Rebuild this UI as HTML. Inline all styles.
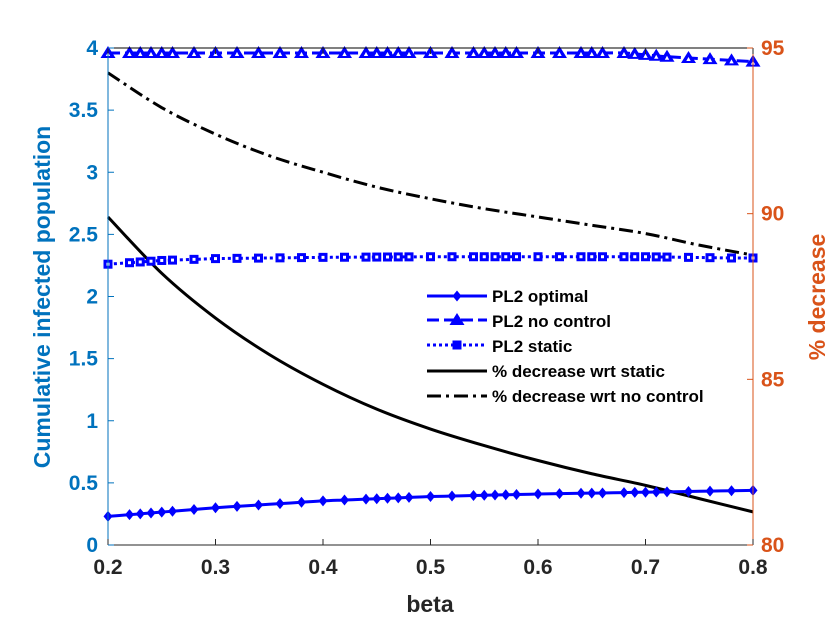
<!DOCTYPE html>
<html><head><meta charset="utf-8"><style>
body{margin:0;background:#fff}
svg text{font-family:"Liberation Sans",Arial,sans-serif;font-weight:bold}
</style></head><body>
<svg id="c" width="830" height="623"></svg>
<script>
const betas=[0.2,0.22,0.23,0.24,0.25,0.26,0.28,0.30,0.32,0.34,0.36,0.38,0.40,0.42,0.44,0.45,0.46,0.47,0.48,0.50,0.52,0.54,0.55,0.56,0.57,0.58,0.60,0.62,0.64,0.65,0.66,0.68,0.69,0.70,0.71,0.72,0.74,0.76,0.78,0.80];
const optKnots=[[0.2,0.23],[0.3,0.30],[0.4,0.355],[0.5,0.39],[0.6,0.41],[0.7,0.425],[0.8,0.44]];
const staticKnots=[[0.2,2.26],[0.25,2.29],[0.3,2.305],[0.4,2.315],[0.5,2.32],[0.7,2.32],[0.78,2.31],[0.8,2.31]];
const noCtrlKnots=[[0.2,3.96],[0.5,3.96],[0.68,3.96],[0.72,3.93],[0.78,3.9],[0.8,3.89]];
const pctStaticX=[0.2,0.25,0.3,0.35,0.4,0.45,0.5,0.55,0.6,0.65,0.7,0.75,0.8];
const pctStatic=[89.9,88.2,86.85,85.75,84.85,84.1,83.5,83.0,82.55,82.15,81.8,81.4,81.0];
const pctNoCtrlX=[0.2,0.25,0.3,0.35,0.4,0.45,0.5,0.55,0.6,0.65,0.7,0.75,0.8];
const pctNoCtrl=[94.25,93.2,92.4,91.75,91.25,90.8,90.45,90.15,89.9,89.65,89.4,89.05,88.75];
const xTicks=[0.2,0.3,0.4,0.5,0.6,0.7,0.8];
const yTicks=[0,0.5,1,1.5,2,2.5,3,3.5,4];
const y2Ticks=[80,85,90,95];

const NS="http://www.w3.org/2000/svg",svg=document.getElementById('c');
const L=108,R=753,T=48,B=545;
const X=v=>L+(v-0.2)/0.6*(R-L), Y=v=>B-v/4*(B-T), Y2=v=>B-(v-80)/15*(B-T);
const BLUE="#0000ff",AXB="#0072BD",AXO="#D95319";
function el(t,a,p){const e=document.createElementNS(NS,t);for(const k in a)e.setAttribute(k,a[k]);(p||svg).appendChild(e);return e;}
function interp(k,x){for(let i=0;i<k.length-1;i++){if(x<=k[i+1][0]){const t=(x-k[i][0])/(k[i+1][0]-k[i][0]);return k[i][1]+t*(k[i+1][1]-k[i][1]);}}return k[k.length-1][1];}
function smooth(pts){let d=`M${pts[0][0]} ${pts[0][1]}`;for(let i=0;i<pts.length-1;i++){const p0=pts[Math.max(0,i-1)],p1=pts[i],p2=pts[i+1],p3=pts[Math.min(pts.length-1,i+2)];
 const c1=[p1[0]+(p2[0]-p0[0])/6,p1[1]+(p2[1]-p0[1])/6],c2=[p2[0]-(p3[0]-p1[0])/6,p2[1]-(p3[1]-p1[1])/6];d+=`C${c1} ${c2} ${p2}`;}return d;}
function series(knots,name,dash,marker){
  const g=el('g',{});
  
  
  const pts=betas.map(b=>[X(b),Y(interp(knots,b))]);
  el('path',{d:smooth(pts),fill:'none',stroke:BLUE,'stroke-width':3,'stroke-dasharray':dash},g);
  pts.forEach(p=>marker(p[0],p[1],g));
}
const diamond=(x,y,g)=>el('path',{d:`M${x} ${y-5.5}L${x+4.5} ${y}L${x} ${y+5.5}L${x-4.5} ${y}Z`,fill:BLUE},g);
const tri=(x,y,g)=>{el('path',{d:`M${x} ${y-7}L${x+7.5} ${y+5}L${x-7.5} ${y+5}Z`,fill:BLUE},g);el('path',{d:`M${x} ${y-1}L${x+2.2} ${y+3}L${x-2.2} ${y+3}Z`,fill:'#fff'},g);};
const sq=(x,y,g)=>{el('rect',{x:x-4.5,y:y-4.5,width:9,height:9,fill:BLUE},g);el('rect',{x:x-1.5,y:y-1.5,width:3,height:3,fill:'#fff'},g);};
function pline(xs,ys,name,dash){
  const p=el('path',{d:smooth(xs.map((x,i)=>[X(x),Y2(ys[i])])),fill:'none',stroke:'#000','stroke-width':3,'stroke-dasharray':dash});
  
  
}
el('rect',{x:L,y:T,width:R-L,height:B-T,fill:'#fff'});
pline(pctStaticX,pctStatic,'pct-decrease-static-line','none');
pline(pctNoCtrlX,pctNoCtrl,'pct-decrease-nocontrol-line','14 5 3 5');
series(optKnots,'pl2-optimal-line','none',diamond);
series(staticKnots,'pl2-static-line','3 3',sq);
series(noCtrlKnots,'pl2-nocontrol-line','12 5',tri);
el('line',{x1:L,y1:T,x2:R,y2:T,stroke:'#000','stroke-width':1});
el('line',{x1:L,y1:B,x2:R,y2:B,stroke:'#262626','stroke-width':1});
el('line',{x1:L,y1:T,x2:L,y2:B,stroke:AXB,'stroke-width':1});
el('line',{x1:R,y1:T,x2:R,y2:B,stroke:AXO,'stroke-width':1});
xTicks.forEach(v=>{el('line',{x1:X(v),y1:B,x2:X(v),y2:B-6,stroke:'#262626'});el('line',{x1:X(v),y1:T,x2:X(v),y2:T+6,stroke:'#262626'});
 const t=el('text',{x:X(v),y:B+29,'text-anchor':'middle','font-size':21,fill:'#262626'});t.textContent=v.toFixed(1);
 });
yTicks.forEach(v=>{el('line',{x1:L,y1:Y(v),x2:L+6,y2:Y(v),stroke:AXB});
 const t=el('text',{x:L-10,y:Y(v)+7,'text-anchor':'end','font-size':21,fill:AXB});t.textContent=String(v);
 });
y2Ticks.forEach(v=>{el('line',{x1:R,y1:Y2(v),x2:R-6,y2:Y2(v),stroke:AXO});
 const t=el('text',{x:R+8,y:Y2(v)+7,'font-size':21,fill:AXO});t.textContent=String(v);
 });
</script>
<svg width="830" height="623" style="position:absolute;left:0;top:0">
<text x="430" y="612" text-anchor="middle" font-size="23" fill="#262626">beta</text>
<text transform="translate(50,297) rotate(-90)" text-anchor="middle" font-size="23" fill="#0072BD">Cumulative infected population</text>
<text transform="translate(825,297) rotate(-90)" text-anchor="middle" font-size="23" fill="#D95319">% decrease</text>
<g>
<rect x="418" y="283" width="322" height="125" fill="#fff" stroke="#fff"/>
<g><line x1="427" y1="296" x2="487" y2="296" stroke="#00f" stroke-width="3"/><path d="M457 290.5L461.5 296L457 301.5L452.5 296Z" fill="#00f"/><text x="492" y="302" font-size="17" fill="#000">PL2 optimal</text></g>
<g><line x1="427" y1="320" x2="487" y2="320" stroke="#00f" stroke-width="3" stroke-dasharray="12 5"/><path d="M457 313L464.5 325L449.5 325Z" fill="#00f"/><text x="492" y="327" font-size="17" fill="#000">PL2 no control</text></g>
<g><line x1="427" y1="345" x2="487" y2="345" stroke="#00f" stroke-width="3" stroke-dasharray="3 3"/><rect x="452.5" y="340.5" width="9" height="9" fill="#00f"/><text x="492" y="352" font-size="17" fill="#000">PL2 static</text></g>
<g><line x1="427" y1="371" x2="487" y2="371" stroke="#000" stroke-width="3"/><text x="492" y="377" font-size="17" fill="#000">% decrease wrt static</text></g>
<g><line x1="427" y1="396" x2="487" y2="396" stroke="#000" stroke-width="3" stroke-dasharray="14 5 3 5"/><text x="492" y="402" font-size="17" fill="#000">% decrease wrt no control</text></g>
</g>
</svg>
</body></html>
